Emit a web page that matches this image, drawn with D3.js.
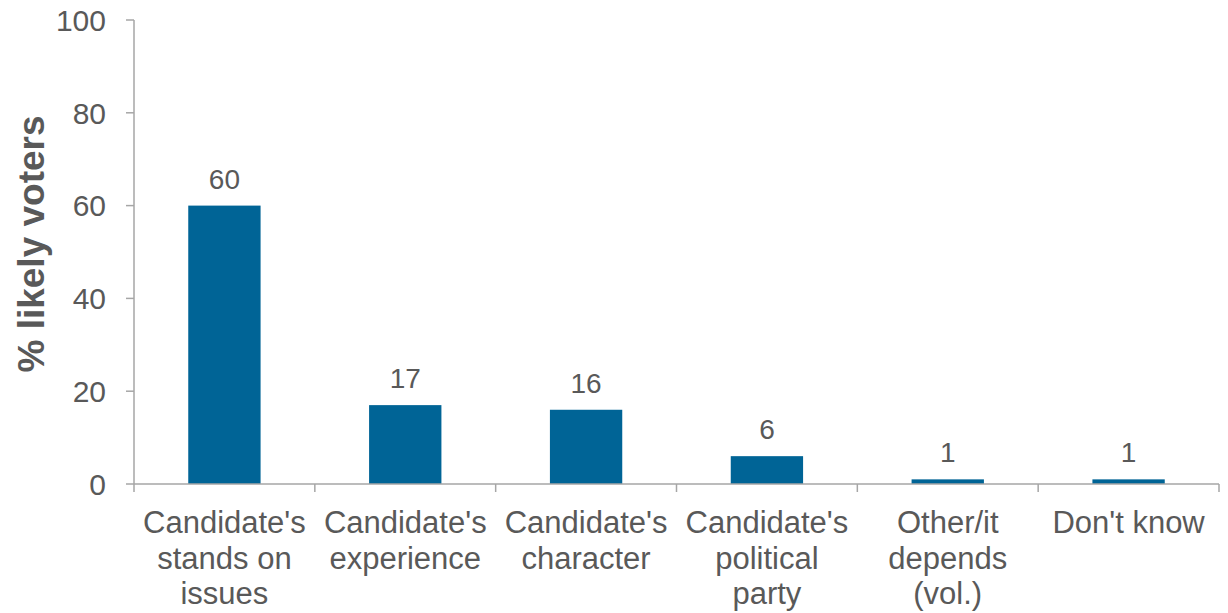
<!DOCTYPE html>
<html><head><meta charset="utf-8">
<script src="https://cdn.jsdelivr.net/npm/d3@7"></script>
<style>body{margin:0;background:#fff}svg{display:block}</style>
</head><body>
<svg id="c" width="1228" height="613"></svg>
<script>
const categories = [
  ["Candidate's","stands on","issues"],
  ["Candidate's","experience"],
  ["Candidate's","character"],
  ["Candidate's","political","party"],
  ["Other/it","depends","(vol.)"],
  ["Don't know"]
];
const values = [60, 17, 16, 6, 1, 1];
const yTicks = [0, 20, 40, 60, 80, 100];
const yTitle = "% likely voters";

const svg = d3.select("#c");
const font = "'Liberation Sans', Arial, sans-serif";
const textCol = "#595959", axisCol = "#a6a6a6", barCol = "#006496";
const x0 = 134, x1 = 1219, yTop = 20, yBot = 484;
const idx = d3.range(values.length);
const x = d3.scaleBand().domain(idx).range([x0, x1]).padding(0);
const y = d3.scaleLinear().domain([0, 100]).range([yBot, yTop]);
const bw = x.bandwidth() * 0.4;

// y axis
svg.append("line").attr("x1", x0).attr("x2", x0).attr("y1", y(100)).attr("y2", y(0))
  .attr("stroke", axisCol).attr("stroke-width", 1.5);
yTicks.forEach(t => {
  svg.append("line").attr("x1", x0 - 8).attr("x2", x0).attr("y1", y(t)).attr("y2", y(t))
    .attr("stroke", axisCol).attr("stroke-width", 1.5);
  svg.append("text").attr("x", x0 - 28).attr("y", y(t)).attr("dy", "0.36em")
    .attr("text-anchor", "end").attr("font-family", font).attr("font-size", 30)
    .attr("fill", textCol).text(t);
});

// bars
svg.selectAll("rect.bar").data(values).join("rect").attr("class", "bar")
  .attr("x", (d, i) => x(i) + (x.bandwidth() - bw) / 2)
  .attr("width", bw)
  .attr("y", d => y(d))
  .attr("height", d => y(0) - y(d))
  .attr("fill", barCol);

// value labels
svg.selectAll("text.val").data(values).join("text").attr("class", "val")
  .attr("x", (d, i) => x(i) + x.bandwidth() / 2)
  .attr("y", d => y(d) - 17)
  .attr("text-anchor", "middle").attr("font-family", font).attr("font-size", 28)
  .attr("fill", textCol).text(d => d);

// x axis
svg.append("line").attr("x1", x0).attr("x2", x1).attr("y1", yBot).attr("y2", yBot)
  .attr("stroke", axisCol).attr("stroke-width", 1.5);
d3.range(values.length + 1).forEach(i => {
  const xx = i < values.length ? x(i) : x1;
  svg.append("line").attr("x1", xx).attr("x2", xx).attr("y1", yBot).attr("y2", yBot + 8)
    .attr("stroke", axisCol).attr("stroke-width", 1.5);
});

// category labels
categories.forEach((lines, i) => {
  const t = svg.append("text").attr("text-anchor", "middle").attr("font-family", font)
    .attr("font-size", 31).attr("fill", textCol);
  lines.forEach((l, j) => {
    t.append("tspan").attr("x", x(i) + x.bandwidth() / 2).attr("y", 533 + j * 35.5).text(l);
  });
});

// y title
svg.append("text").attr("transform", `translate(44,244) rotate(-90)`)
  .attr("text-anchor", "middle").attr("font-family", font).attr("font-size", 37)
  .attr("font-weight", "bold").attr("fill", textCol).text(yTitle);
</script>
</body></html>
